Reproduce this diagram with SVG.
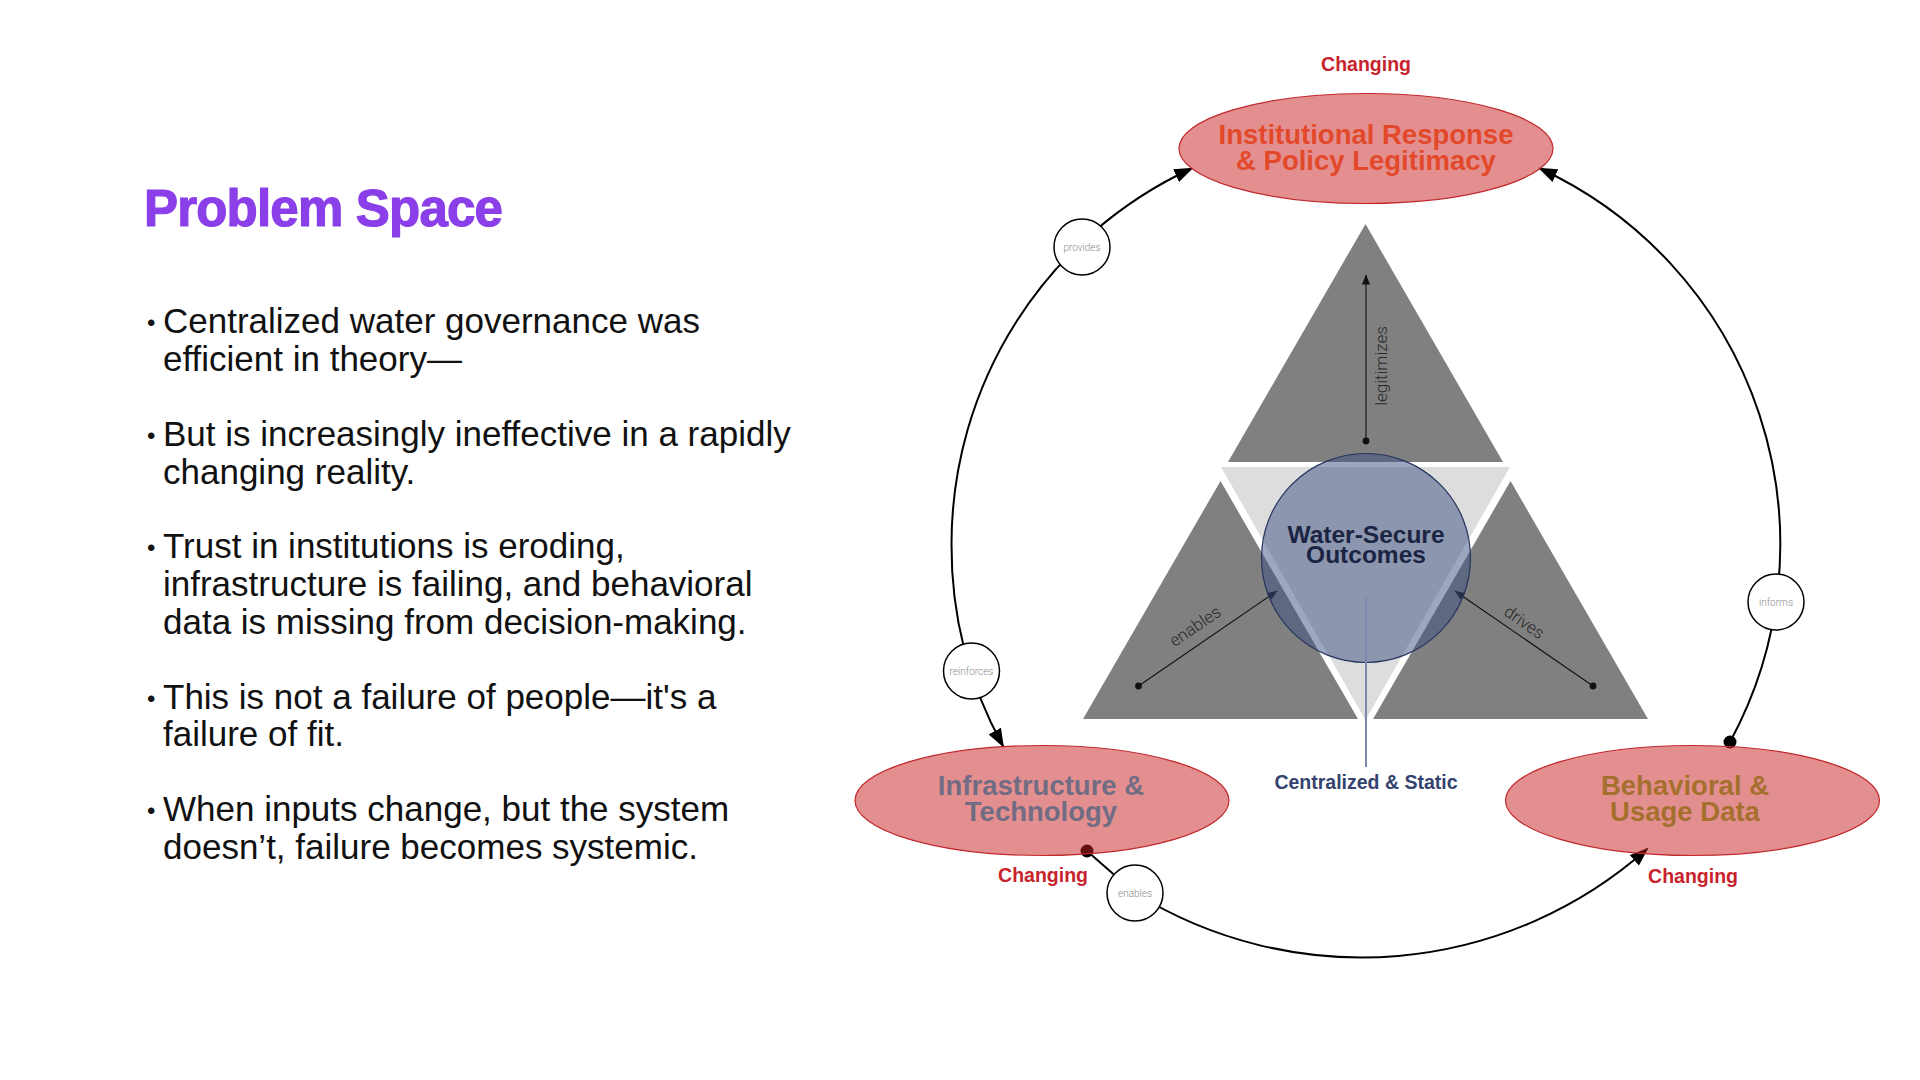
<svg xmlns="http://www.w3.org/2000/svg" width="1920" height="1080" viewBox="0 0 1920 1080">
<style>
  .title{font-family:"Liberation Sans",Arial,sans-serif;font-weight:700;font-size:51px;fill:#8A3FE8;stroke:#8A3FE8;stroke-width:1.2px;letter-spacing:-0.8px}
  .body{font-family:"Liberation Sans",Arial,sans-serif;font-size:35px;fill:#111}
  .bul{font-family:"Liberation Sans",Arial,sans-serif;font-size:24px;fill:#111}
  .ell{fill:#C91F1F;fill-opacity:0.5;stroke:#C0282B;stroke-width:1.2}
  .nlbl{font-family:"Liberation Sans",Arial,sans-serif;font-weight:700;font-size:27.5px;text-anchor:middle}
  .chg{font-family:"Liberation Sans",Arial,sans-serif;font-weight:700;font-size:19.5px;fill:#C8232C;text-anchor:middle}
  .ring{fill:none;stroke:#000;stroke-width:2}
  .lc{fill:#fff;stroke:#000;stroke-width:1.5}
  .lt{font-family:Roboto,"Liberation Sans",sans-serif;font-weight:300;font-size:10px;fill:#8a8a8a;text-anchor:middle}
  .inner{fill:none;stroke:#111;stroke-width:1.1}
  .il{font-family:Roboto,"Liberation Sans",sans-serif;font-weight:300;font-size:17px;fill:#2a2a2a;text-anchor:middle}
  .tri{fill:#808080}
</style>
<defs>
  <marker id="arrow" markerUnits="userSpaceOnUse" markerWidth="19" markerHeight="14" viewBox="0 0 19 14" refX="17" refY="7" orient="auto">
    <path d="M0,0 L19,7 L0,14 z" fill="#000"/>
  </marker>
  <marker id="dot" markerUnits="userSpaceOnUse" markerWidth="16" markerHeight="16" viewBox="0 0 16 16" refX="8" refY="8">
    <circle cx="8" cy="8" r="6.5" fill="#000"/>
  </marker>
  <marker id="sarrow" markerUnits="userSpaceOnUse" markerWidth="10" markerHeight="8" viewBox="0 0 10 8" refX="9.5" refY="4" orient="auto">
    <path d="M0,0 L10,4 L0,8 z" fill="#111"/>
  </marker>
  <marker id="sdot" markerUnits="userSpaceOnUse" markerWidth="8" markerHeight="8" viewBox="0 0 8 8" refX="4" refY="4">
    <circle cx="4" cy="4" r="3.4" fill="#111"/>
  </marker>
</defs>
<rect width="1920" height="1080" fill="#fff"/>

<g id="text-panel">
  <text class="title" x="144" y="226">Problem Space</text>
  <g class="bul">
    <text x="147" y="331">•</text>
    <text x="147" y="444">•</text>
    <text x="147" y="556">•</text>
    <text x="147" y="707">•</text>
    <text x="147" y="819">•</text>
  </g>
  <g class="body">
    <text x="163" y="333">Centralized water governance was<tspan x="163" y="371">efficient in theory—</tspan></text>
    <text x="163" y="446">But is increasingly ineffective in a rapidly<tspan x="163" y="484">changing reality.</tspan></text>
    <text x="163" y="558">Trust in institutions is eroding,<tspan x="163" y="596">infrastructure is failing, and behavioral</tspan><tspan x="163" y="634">data is missing from decision-making.</tspan></text>
    <text x="163" y="709">This is not a failure of people—it's a<tspan x="163" y="746">failure of fit.</tspan></text>
    <text x="163" y="821">When inputs change, but the system<tspan x="163" y="859">doesn’t, failure becomes systemic.</tspan></text>
  </g>
</g>

<g id="core-triangles">
  <polygon class="tri" points="1365.5,224 1503,462 1228,462"/>
  <polygon fill="#dddddd" points="1221,467 1510,467 1365.5,720"/>
  <polygon class="tri" points="1220.5,481 1358,719 1083,719"/>
  <polygon class="tri" points="1510.5,481 1648,719 1373,719"/>
</g>

<g id="connectors">
  <path id="c-provides" class="ring" d="M951.5,544 A414,414 0 0 1 1191.5,168.5" marker-end="url(#arrow)"/>
  <path id="c-reinforces" class="ring" d="M951.5,544 A414,414 0 0 0 1003,746" marker-end="url(#arrow)"/>
  <path id="c-informs" class="ring" d="M1730,742 A414,414 0 0 0 1540,168.5" marker-start="url(#dot)" marker-end="url(#arrow)"/>
  <path id="c-enables" class="ring" d="M1087,851 L1135,893 A430,430 0 0 0 1647,849" marker-start="url(#dot)" marker-end="url(#arrow)"/>
  <path id="c-legitimizes" class="inner" d="M1366,441 L1366,275" marker-start="url(#sdot)" marker-end="url(#sarrow)"/>
  <path id="c-enables-inner" class="inner" d="M1138.5,686 L1277,591" marker-start="url(#sdot)" marker-end="url(#sarrow)"/>
  <path id="c-drives" class="inner" d="M1593,686 L1455,591" marker-start="url(#sdot)" marker-end="url(#sarrow)"/>
  <g id="connector-labels">
    <circle class="lc" cx="1082" cy="247" r="28"/>
    <text class="lt" x="1082" y="250.5">provides</text>
    <circle class="lc" cx="971.5" cy="671" r="28"/>
    <text class="lt" x="971.5" y="674.5">reinforces</text>
    <circle class="lc" cx="1776" cy="602" r="28"/>
    <text class="lt" x="1776" y="605.5">informs</text>
    <circle class="lc" cx="1135" cy="893" r="28"/>
    <text class="lt" x="1135" y="896.5">enables</text>
    <text class="il" transform="translate(1381,366) rotate(-90)" y="6">legitimizes</text>
    <text class="il" transform="translate(1198.5,631) rotate(-34.4)">enables</text>
    <text class="il" transform="translate(1521,627) rotate(34.8)">drives</text>
  </g>
</g>

<g id="node-water-secure">
  <circle cx="1366" cy="558" r="104.5" fill="#3B4F80" fill-opacity="0.5" stroke="#26345E" stroke-width="1.2"/>
  <line x1="1366" y1="598" x2="1366" y2="767" stroke="#7A88AD" stroke-width="2"/>
  <text class="nlbl" x="1366" y="543" style="font-size:24.5px;fill:#1B2442">Water-Secure<tspan x="1366" y="563">Outcomes</tspan></text>
  <text class="nlbl" x="1366" y="789" style="font-size:19.5px;fill:#34426E">Centralized &amp; Static</text>
</g>

<g id="node-institutional">
  <text class="chg" x="1366" y="70.5">Changing</text>
  <ellipse class="ell" cx="1366" cy="148.5" rx="187" ry="55"/>
  <text class="nlbl" x="1366" y="144" fill="#E2492B">Institutional Response<tspan x="1366" y="170">&amp; Policy Legitimacy</tspan></text>
</g>

<g id="node-infrastructure">
  <ellipse class="ell" cx="1042" cy="800.5" rx="187" ry="55"/>
  <text class="nlbl" x="1041" y="795" fill="#716C83">Infrastructure &amp;<tspan x="1041" y="821">Technology</tspan></text>
  <text class="chg" x="1043" y="882">Changing</text>
</g>

<g id="node-behavioral">
  <ellipse class="ell" cx="1692.5" cy="800.5" rx="187" ry="55"/>
  <text class="nlbl" x="1685" y="795" fill="#A5702E">Behavioral &amp;<tspan x="1685" y="821">Usage Data</tspan></text>
  <text class="chg" x="1693" y="883">Changing</text>
</g>
</svg>
